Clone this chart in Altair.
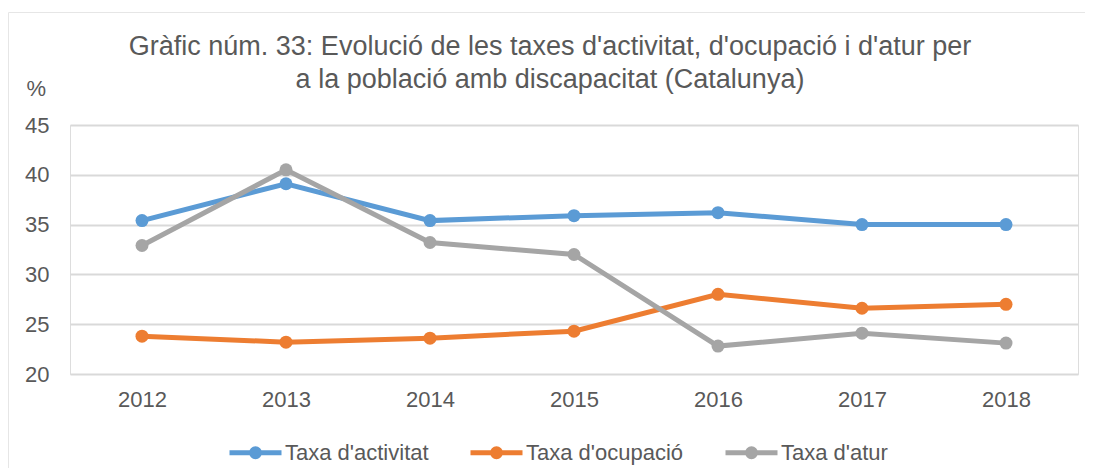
import altair as alt
import pandas as pd

years = ["2012", "2013", "2014", "2015", "2016", "2017", "2018"]
series_names = ["Taxa d'activitat", "Taxa d'ocupació", "Taxa d'atur"]
activitat = [35.4, 39.1, 35.4, 35.9, 36.2, 35.0, 35.0]
ocupacio = [23.8, 23.2, 23.6, 24.3, 28.0, 26.6, 27.0]
atur = [32.9, 40.5, 33.2, 32.0, 22.8, 24.1, 23.1]
colors = ["#5B9BD5", "#ED7D31", "#A5A5A5"]
y_ticks = [20, 25, 30, 35, 40, 45]
title_lines = ["Gràfic núm. 33: Evolució de les taxes d'activitat, d'ocupació i d'atur per",
               "a la població amb discapacitat (Catalunya)"]

rows = []
for name, vals in zip(series_names, [activitat, ocupacio, atur]):
    for y, v in zip(years, vals):
        rows.append({"year": y, "value": v, "serie": name})
df = pd.DataFrame(rows)

FONT = "Liberation Sans"
TXT = "#595959"

legend_path = ("M-1,0L1,0 "
               "M0.154,0A0.154,0.154,0,1,1,-0.154,0A0.154,0.154,0,1,1,0.154,0 "
               "M0.058,0A0.058,0.058,0,1,1,-0.058,0A0.058,0.058,0,1,1,0.058,0")

x_enc = alt.X("year:O", scale=alt.Scale(type="point", padding=0.5),
              axis=alt.Axis(title=None, labelAngle=0, labelFontSize=22, labelColor=TXT,
                            labelFont=FONT, labelPadding=15, ticks=False, domain=False,
                            grid=False))
y_enc = alt.Y("value:Q", scale=alt.Scale(domain=[20, 45], nice=False, zero=False),
              axis=alt.Axis(values=y_ticks, title="%", titleAngle=0, titleX=-44, titleY=-37,
                            titleAlign="left", titleBaseline="middle", titleFontSize=22,
                            titleFontWeight="normal", titleColor=TXT, titleFont=FONT,
                            labelFontSize=22, labelColor=TXT, labelFont=FONT, labelPadding=21,
                            ticks=False, domain=False, grid=True, gridColor="#D9D9D9",
                            gridWidth=2))
color_enc = alt.Color("serie:N", sort=series_names,
                      scale=alt.Scale(domain=series_names, range=colors),
                      legend=alt.Legend(title=None, orient="none", direction="horizontal",
                                        legendX=157, legendY=299, symbolType=legend_path,
                                        symbolSize=2704, symbolStrokeWidth=5,
                                        labelFontSize=22, labelColor=TXT, labelFont=FONT,
                                        labelOffset=1, columnPadding=31))

base = alt.Chart(df).encode(x=x_enc, y=y_enc, color=color_enc,
                            order=alt.Order("year:O"))
lines = base.mark_line(strokeWidth=5)
points = base.mark_point(filled=True, size=169, opacity=1)

one = pd.DataFrame({"a": [0]})
border_top = alt.Chart(one).mark_rule(stroke="#E6E6E6", strokeWidth=1).encode(
    x=alt.value(-61.5), x2=alt.value(1015), y=alt.value(-112.5), y2=alt.value(-112.5))
border_left = alt.Chart(one).mark_rule(stroke="#E6E6E6", strokeWidth=1).encode(
    x=alt.value(-61.5), x2=alt.value(-61.5), y=alt.value(-112.5), y2=alt.value(343))

tdf = pd.DataFrame({"line": title_lines, "i": [0, 1]})
title1 = alt.Chart(tdf).transform_filter("datum.i == 0").mark_text(
    font=FONT, fontSize=27, color=TXT, align="center", baseline="alphabetic"
).encode(text="line:N", x=alt.value(480), y=alt.value(-70))
title2 = alt.Chart(tdf).transform_filter("datum.i == 1").mark_text(
    font=FONT, fontSize=27, color=TXT, align="center", baseline="alphabetic"
).encode(text="line:N", x=alt.value(480), y=alt.value(-37))

chart = alt.layer(border_top, border_left, lines, points, title1, title2).properties(
    width=1008, height=249,
    autosize=alt.AutoSizeParams(type="none"),
    padding={"left": 62, "top": 117, "right": 7, "bottom": 94},
).configure_view(stroke=None).configure(background="white")

chart.save("out.html", embed_options={"renderer": "svg", "actions": False})
